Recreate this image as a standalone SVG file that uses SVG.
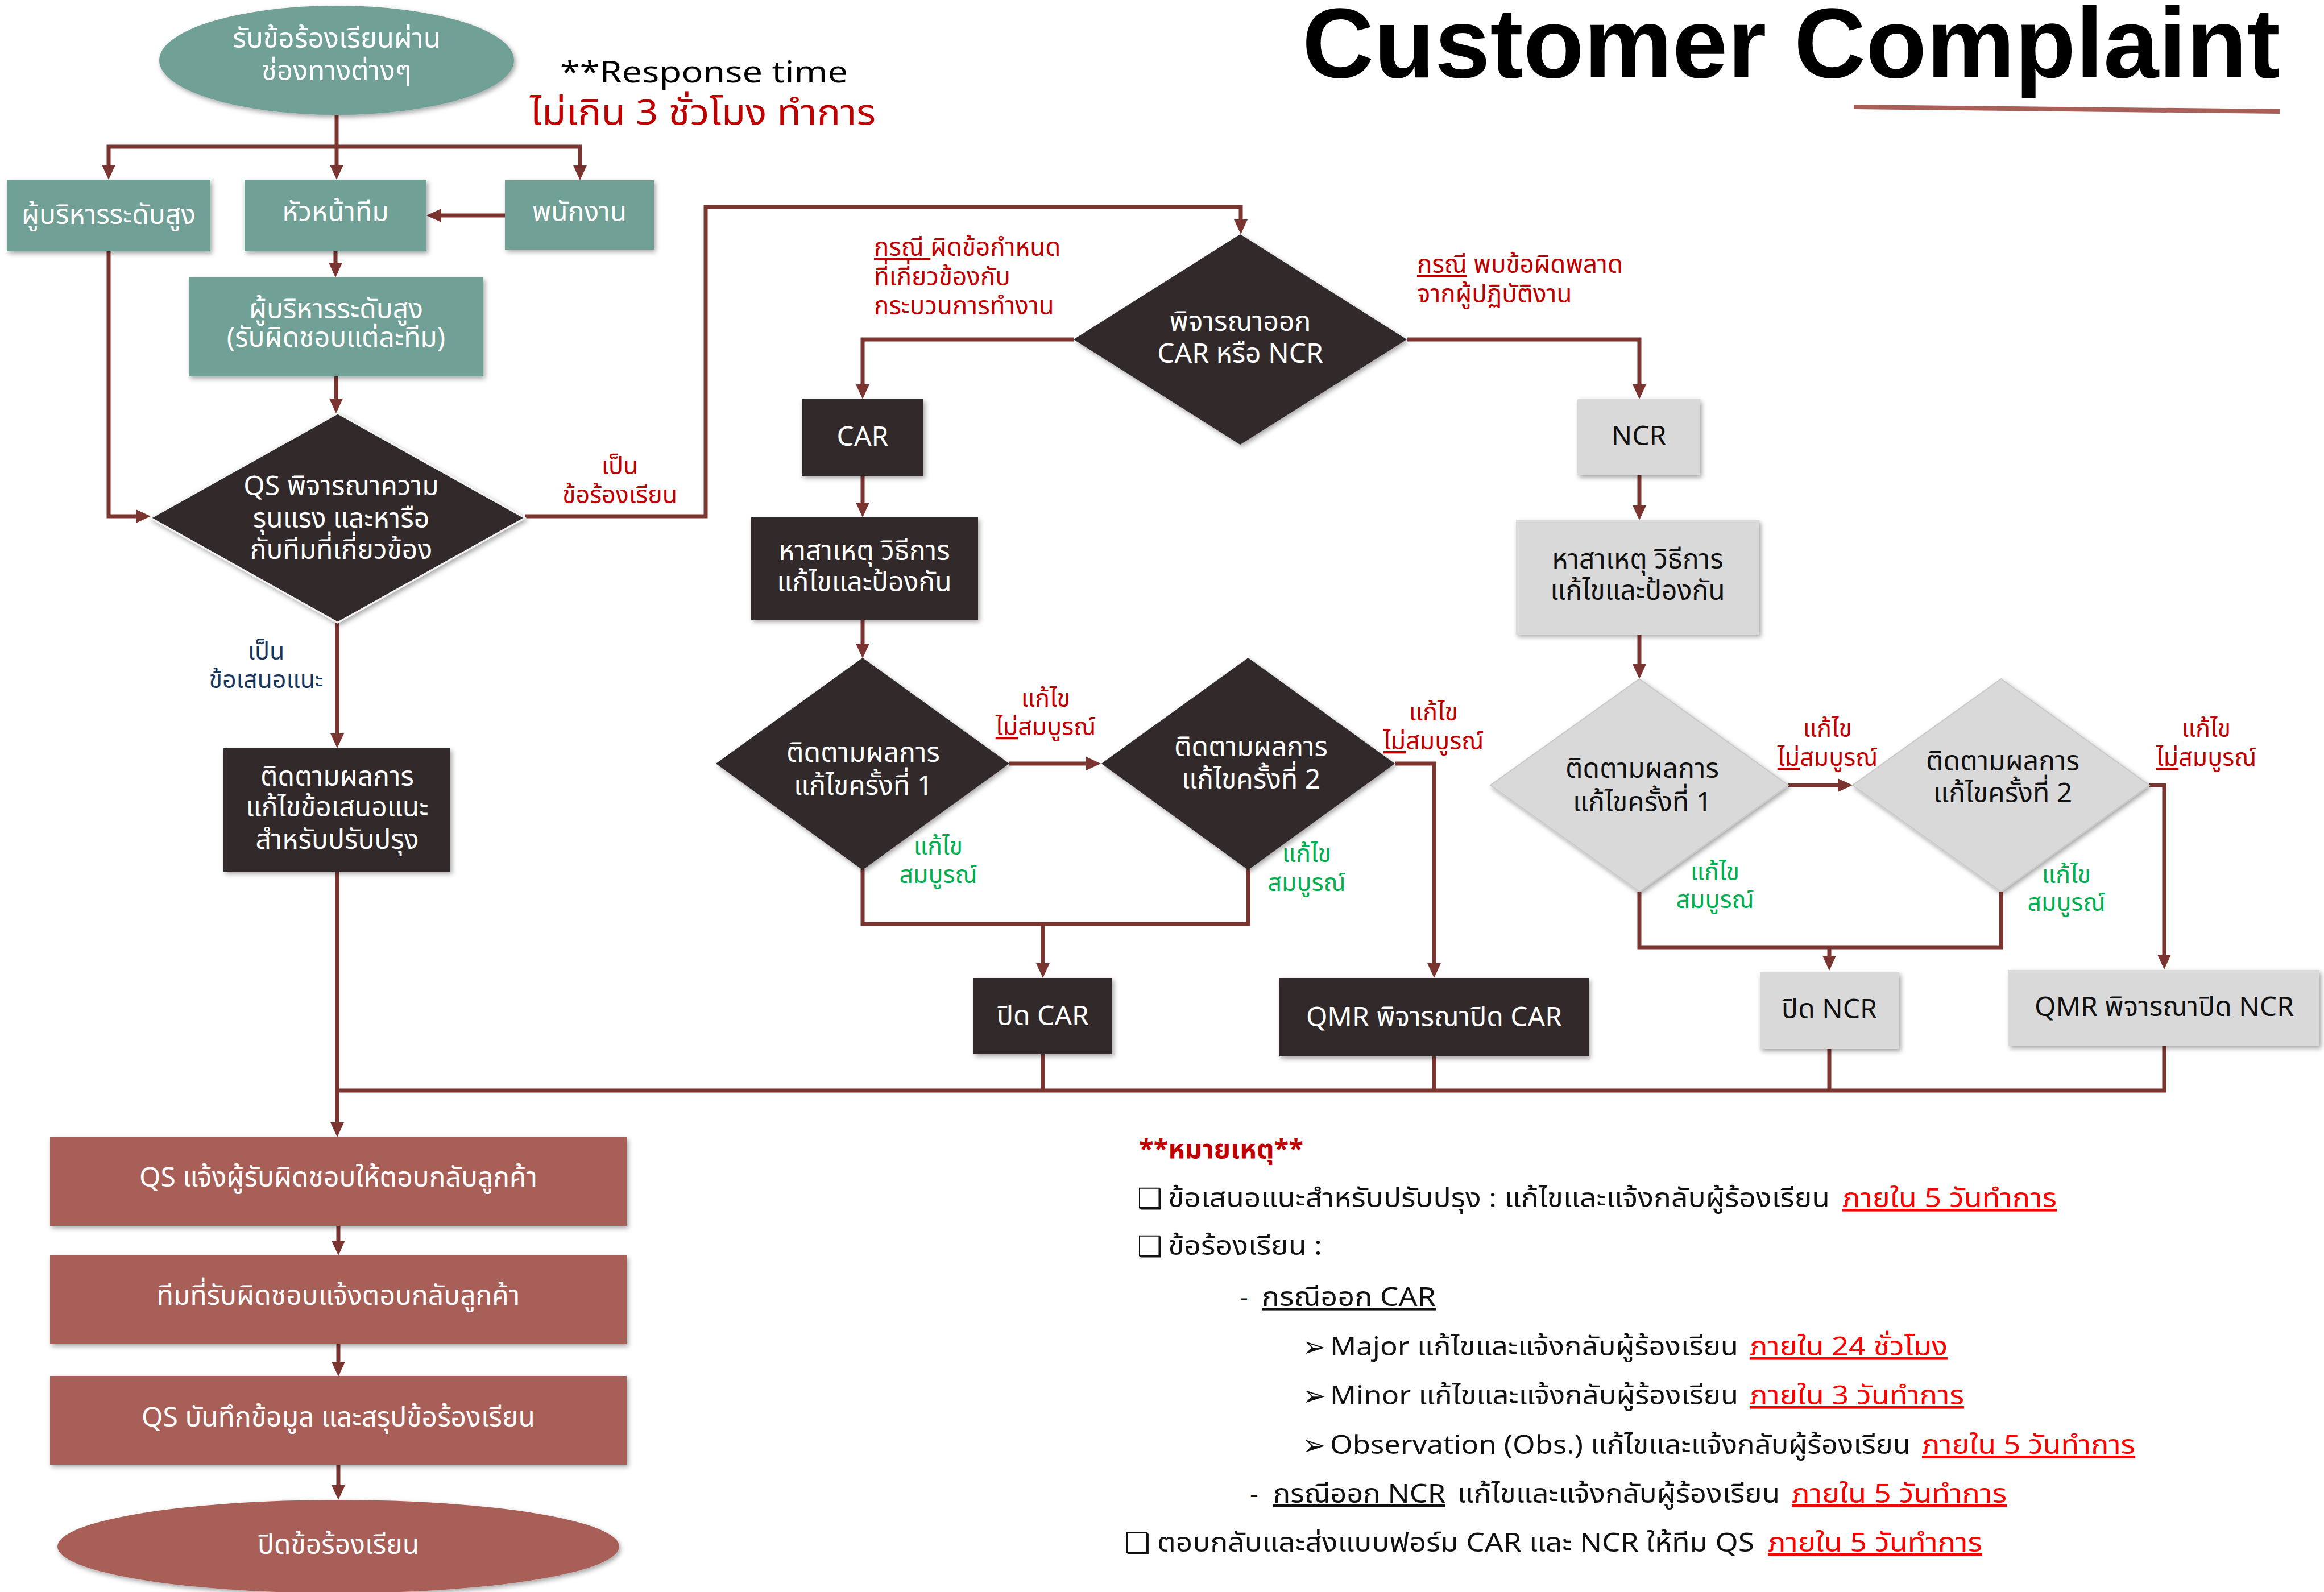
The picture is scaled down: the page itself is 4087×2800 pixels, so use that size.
<svg xmlns="http://www.w3.org/2000/svg" width="4087" height="2800" viewBox="0 0 4087 2800">
<defs>
<style>
.t{font-family:"Noto Sans Thai","Noto Sans","DejaVu Sans",sans-serif;}
.m{text-anchor:middle;}
.w{fill:#ffffff;}
.k{fill:#111111;}
.r{fill:#c00000;}
.rr{fill:#ff0000;}
.g{fill:#00b050;}
.n{fill:#17375e;}
.f48{font-size:48px;}
.f43{font-size:43px;}
.f46{font-size:46px;}
.u{text-decoration:underline;}
.teal{fill:#6fa096;}
.dark{fill:#322a2a;}
.gray{fill:#d9d9d9;}
.brick{fill:#a85f58;}
.sym{font-family:"DejaVu Sans",sans-serif;font-size:50px;fill:#111;}
.c path{fill:none;stroke:#7b3530;stroke-width:7;stroke-linejoin:miter;}
</style>
<filter id="sh" x="-10%" y="-10%" width="125%" height="125%">
<feDropShadow dx="3" dy="4" stdDeviation="4" flood-color="#000" flood-opacity="0.35"/>
</filter>
<marker id="ar" markerUnits="userSpaceOnUse" markerWidth="26" markerHeight="24" refX="18" refY="12" orient="auto-start-reverse" viewBox="0 0 26 24">
<path d="M0,0 L26,12 L0,24 z" fill="#7b3530"/>
</marker>
</defs>
<rect width="4087" height="2800" fill="#ffffff"/>

<!-- title -->
<g id="title">
<text x="2290" y="136" font-family="Liberation Sans, Arial, sans-serif" font-weight="bold" font-size="175" textLength="1720" lengthAdjust="spacingAndGlyphs" fill="#000">Customer Complaint</text>
<line x1="3260" y1="188" x2="4009" y2="196" stroke="#a85f58" stroke-width="8"/>
</g>

<g id="response">
<text class="t" x="985" y="145" font-size="52" textLength="506" lengthAdjust="spacingAndGlyphs" fill="#000">**Response time</text>
<text class="t r" x="932" y="219" font-size="62" textLength="608" lengthAdjust="spacingAndGlyphs">ไม่เกิน 3 ชั่วโมง ทำการ</text>
</g>

<!-- connectors -->
<g id="connectors" class="c">
<path d="M592,202 V308" marker-end="url(#ar)"/>
<path d="M191,308 V258 H1020 V309" marker-start="url(#ar)" marker-end="url(#ar)"/>
<path d="M888,379 H758" marker-end="url(#ar)"/>
<path d="M590,442 V480" marker-end="url(#ar)"/>
<path d="M191,442 V908 H257" marker-end="url(#ar)"/>
<path d="M591,662 V719" marker-end="url(#ar)"/>
<path d="M923,908 H1241 V364 H2182 V404" marker-end="url(#ar)"/>
<path d="M593,1095 V1308" marker-end="url(#ar)"/>
<path d="M593,1533 V1992" marker-end="url(#ar)"/>
<path d="M1888,597 H1517 V694" marker-end="url(#ar)"/>
<path d="M2475,597 H2883 V694" marker-end="url(#ar)"/>
<path d="M1517,837 V902" marker-end="url(#ar)"/>
<path d="M1517,1090 V1150" marker-end="url(#ar)"/>
<path d="M1775,1343 H1928" marker-end="url(#ar)"/>
<path d="M1517,1529 V1625 H2195 V1529"/>
<path d="M1834,1625 V1712" marker-end="url(#ar)"/>
<path d="M2453,1343 H2522 V1712" marker-end="url(#ar)"/>
<path d="M2883,836 V907" marker-end="url(#ar)"/>
<path d="M2883,1116 V1186" marker-end="url(#ar)"/>
<path d="M3145,1381 H3250" marker-end="url(#ar)"/>
<path d="M2883,1568 V1666 H3519 V1568"/>
<path d="M3217,1666 V1699" marker-end="url(#ar)"/>
<path d="M3780,1381 H3806 V1697" marker-end="url(#ar)"/>
<path d="M1834,1854 V1918"/>
<path d="M2522,1858 V1918"/>
<path d="M3217,1845 V1918"/>
<path d="M3806,1840 V1918 H593"/>
<path d="M595,2156 V2200" marker-end="url(#ar)"/>
<path d="M595,2364 V2413" marker-end="url(#ar)"/>
<path d="M595,2576 V2630" marker-end="url(#ar)"/>
</g>

<!-- nodes -->
<g id="start">
<ellipse cx="592" cy="106" rx="312" ry="96" class="teal" filter="url(#sh)"/>
<text class="t m w" font-size="49" x="592" y="84">รับข้อร้องเรียนผ่าน</text>
<text class="t m w" font-size="49" x="592" y="141">ช่องทางต่างๆ</text>
</g>
<g id="exec">
<rect x="12" y="316" width="358" height="126" class="teal" filter="url(#sh)"/>
<text class="t m w f48" x="191" y="394">ผู้บริหารระดับสูง</text>
</g>
<g id="lead">
<rect x="430" y="316" width="320" height="126" class="teal" filter="url(#sh)"/>
<text class="t m w f48" x="590" y="389">หัวหน้าทีม</text>
</g>
<g id="staff">
<rect x="888" y="317" width="262" height="122" class="teal" filter="url(#sh)"/>
<text class="t m w f48" x="1019" y="389">พนักงาน</text>
</g>
<g id="exec2">
<rect x="332" y="488" width="518" height="174" class="teal" filter="url(#sh)"/>
<text class="t m w f48" x="591" y="560">ผู้บริหารระดับสูง</text>
<text class="t m w f48" x="591" y="610">(รับผิดชอบแต่ละทีม)</text>
</g>
<g id="qs">
<polygon points="594,727 923,911 594,1095 265,911" class="dark" stroke="#f2f2f2" stroke-width="3" filter="url(#sh)"/>
<text class="t m w f48" x="600" y="871">QS พิจารณาความ</text>
<text class="t m w f48" x="600" y="928">รุนแรง และหารือ</text>
<text class="t m w f48" x="600" y="983">กับทีมที่เกี่ยวข้อง</text>
</g>
<g id="lbl-complaint">
<text class="t m r f43" x="1090" y="834">เป็น</text>
<text class="t m r f43" x="1090" y="885">ข้อร้องเรียน</text>
</g>
<g id="lbl-suggest">
<text class="t m n f43" x="468" y="1160">เป็น</text>
<text class="t m n f43" x="468" y="1210">ข้อเสนอแนะ</text>
</g>
<g id="suggest">
<rect x="393" y="1316" width="399" height="217" class="dark" filter="url(#sh)"/>
<text class="t m w f48" x="593" y="1382">ติดตามผลการ</text>
<text class="t m w f48" x="593" y="1436">แก้ไขข้อเสนอแนะ</text>
<text class="t m w f48" x="593" y="1493">สำหรับปรับปรุง</text>
</g>

<g id="decide">
<polygon points="2181,412 2474,597 2181,782 1888,597" class="dark" filter="url(#sh)"/>
<text class="t m w f48" x="2181" y="582">พิจารณาออก</text>
<text class="t m w f48" x="2181" y="638">CAR หรือ NCR</text>
</g>
<g id="lbl-car">
<text class="t r" font-size="44" x="1537" y="450"><tspan class="u">กรณี </tspan>ผิดข้อกำหนด</text>
<text class="t r" font-size="44" x="1537" y="502">ที่เกี่ยวข้องกับ</text>
<text class="t r" font-size="44" x="1537" y="553">กระบวนการทำงาน</text>
</g>
<g id="lbl-ncr">
<text class="t r" font-size="44" x="2492" y="480"><tspan class="u">กรณี</tspan> พบข้อผิดพลาด</text>
<text class="t r" font-size="44" x="2492" y="532">จากผู้ปฏิบัติงาน</text>
</g>

<g id="car">
<rect x="1410" y="702" width="214" height="135" class="dark" filter="url(#sh)"/>
<text class="t m w f48" x="1517" y="784">CAR</text>
</g>
<g id="car-cause">
<rect x="1321" y="910" width="399" height="180" class="dark" filter="url(#sh)"/>
<text class="t m w f48" x="1520" y="985">หาสาเหตุ วิธีการ</text>
<text class="t m w f48" x="1520" y="1040">แก้ไขและป้องกัน</text>
</g>
<g id="car-f1">
<polygon points="1517,1157 1775,1343 1517,1530 1259,1343" class="dark" filter="url(#sh)"/>
<text class="t m w f48" x="1518" y="1340">ติดตามผลการ</text>
<text class="t m w f48" x="1518" y="1398">แก้ไขครั้งที่ 1</text>
</g>
<g id="car-f2">
<polygon points="2195,1157 2453,1343 2195,1530 1937,1343" class="dark" filter="url(#sh)"/>
<text class="t m w f48" x="2200" y="1330">ติดตามผลการ</text>
<text class="t m w f48" x="2200" y="1387">แก้ไขครั้งที่ 2</text>
</g>
<g id="car-labels">
<text class="t m r f43" x="1839" y="1243">แก้ไข</text>
<text class="t m r f43" x="1839" y="1293"><tspan class="u">ไม่</tspan>สมบูรณ์</text>
<text class="t m r f43" x="2521" y="1267">แก้ไข</text>
<text class="t m r f43" x="2521" y="1318"><tspan class="u">ไม่</tspan>สมบูรณ์</text>
<text class="t m g f43" x="1650" y="1503">แก้ไข</text>
<text class="t m g f43" x="1650" y="1553">สมบูรณ์</text>
<text class="t m g f43" x="2298" y="1516">แก้ไข</text>
<text class="t m g f43" x="2298" y="1567">สมบูรณ์</text>
</g>
<g id="car-close">
<rect x="1712" y="1720" width="244" height="134" class="dark" filter="url(#sh)"/>
<text class="t m w f48" x="1834" y="1803">ปิด CAR</text>
</g>
<g id="car-qmr">
<rect x="2250" y="1720" width="544" height="138" class="dark" filter="url(#sh)"/>
<text class="t m w f48" x="2522" y="1805">QMR พิจารณาปิด CAR</text>
</g>

<g id="ncr">
<rect x="2774" y="702" width="216" height="134" class="gray" filter="url(#sh)"/>
<text class="t m k f48" x="2882" y="783">NCR</text>
</g>
<g id="ncr-cause">
<rect x="2666" y="915" width="428" height="201" class="gray" filter="url(#sh)"/>
<text class="t m k f48" x="2880" y="1000">หาสาเหตุ วิธีการ</text>
<text class="t m k f48" x="2880" y="1055">แก้ไขและป้องกัน</text>
</g>
<g id="ncr-f1">
<polygon points="2883,1194 3145,1381 2883,1568 2621,1381" class="gray" stroke="#c9c9c9" stroke-width="2" filter="url(#sh)"/>
<text class="t m k f48" x="2888" y="1368">ติดตามผลการ</text>
<text class="t m k f48" x="2888" y="1427">แก้ไขครั้งที่ 1</text>
</g>
<g id="ncr-f2">
<polygon points="3519,1194 3780,1381 3519,1568 3258,1381" class="gray" stroke="#c9c9c9" stroke-width="2" filter="url(#sh)"/>
<text class="t m k f48" x="3522" y="1355">ติดตามผลการ</text>
<text class="t m k f48" x="3522" y="1411">แก้ไขครั้งที่ 2</text>
</g>
<g id="ncr-labels">
<text class="t m r f43" x="3214" y="1296">แก้ไข</text>
<text class="t m r f43" x="3214" y="1347"><tspan class="u">ไม่</tspan>สมบูรณ์</text>
<text class="t m r f43" x="3880" y="1296">แก้ไข</text>
<text class="t m r f43" x="3880" y="1347"><tspan class="u">ไม่</tspan>สมบูรณ์</text>
<text class="t m g f43" x="3016" y="1548">แก้ไข</text>
<text class="t m g f43" x="3016" y="1597">สมบูรณ์</text>
<text class="t m g f43" x="3634" y="1553">แก้ไข</text>
<text class="t m g f43" x="3634" y="1602">สมบูรณ์</text>
</g>
<g id="ncr-close">
<rect x="3095" y="1710" width="245" height="135" class="gray" filter="url(#sh)"/>
<text class="t m k f48" x="3217" y="1791">ปิด NCR</text>
</g>
<g id="ncr-qmr">
<rect x="3532" y="1706" width="547" height="134" class="gray" filter="url(#sh)"/>
<text class="t m k f48" x="3806" y="1787">QMR พิจารณาปิด NCR</text>
</g>

<g id="notify">
<rect x="88" y="2000" width="1014" height="156" class="brick" filter="url(#sh)"/>
<text class="t m w f48" x="595" y="2087">QS แจ้งผู้รับผิดชอบให้ตอบกลับลูกค้า</text>
</g>
<g id="team-reply">
<rect x="88" y="2208" width="1014" height="156" class="brick" filter="url(#sh)"/>
<text class="t m w f48" x="595" y="2295">ทีมที่รับผิดชอบแจ้งตอบกลับลูกค้า</text>
</g>
<g id="record">
<rect x="88" y="2420" width="1014" height="156" class="brick" filter="url(#sh)"/>
<text class="t m w f48" x="595" y="2509">QS บันทึกข้อมูล และสรุปข้อร้องเรียน</text>
</g>
<g id="end">
<ellipse cx="595" cy="2720" rx="494" ry="82" class="brick" filter="url(#sh)"/>
<text class="t m w f48" x="595" y="2733">ปิดข้อร้องเรียน</text>
</g>

<!-- notes -->
<g id="notes">
<text class="t r" font-size="46" font-weight="bold" x="2003" y="2037" textLength="289" lengthAdjust="spacingAndGlyphs">**หมายเหตุ**</text>
<text class="sym" x="2000" y="2125">❑</text>
<text class="t k f46" x="2054" y="2123" textLength="1164" lengthAdjust="spacingAndGlyphs">ข้อเสนอแนะสำหรับปรับปรุง : แก้ไขและแจ้งกลับผู้ร้องเรียน</text>
<text class="t rr f46 u" x="3240" y="2123" textLength="377" lengthAdjust="spacingAndGlyphs">ภายใน 5 วันทำการ</text>
<text class="sym" x="2000" y="2209">❑</text>
<text class="t k f46" x="2054" y="2207" textLength="271" lengthAdjust="spacingAndGlyphs">ข้อร้องเรียน :</text>
<text class="t k f46" x="2180" y="2297">-</text>
<text class="t k f46 u" x="2219" y="2297" textLength="306" lengthAdjust="spacingAndGlyphs">กรณีออก CAR</text>
<text class="sym" x="2290" y="2386" font-size="46">➢</text>
<text class="t k f46" x="2339" y="2384" textLength="718" lengthAdjust="spacingAndGlyphs">Major แก้ไขและแจ้งกลับผู้ร้องเรียน</text>
<text class="t rr f46 u" x="3077" y="2384" textLength="348" lengthAdjust="spacingAndGlyphs">ภายใน 24 ชั่วโมง</text>
<text class="sym" x="2290" y="2472" font-size="46">➢</text>
<text class="t k f46" x="2339" y="2470" textLength="718" lengthAdjust="spacingAndGlyphs">Minor แก้ไขและแจ้งกลับผู้ร้องเรียน</text>
<text class="t rr f46 u" x="3077" y="2470" textLength="377" lengthAdjust="spacingAndGlyphs">ภายใน 3 วันทำการ</text>
<text class="sym" x="2290" y="2559" font-size="46">➢</text>
<text class="t k f46" x="2339" y="2557" textLength="1021" lengthAdjust="spacingAndGlyphs">Observation (Obs.) แก้ไขและแจ้งกลับผู้ร้องเรียน</text>
<text class="t rr f46 u" x="3380" y="2557" textLength="375" lengthAdjust="spacingAndGlyphs">ภายใน 5 วันทำการ</text>
<text class="t k f46" x="2198" y="2643">-</text>
<text class="t k f46 u" x="2239" y="2643" textLength="303" lengthAdjust="spacingAndGlyphs">กรณีออก NCR</text>
<text class="t k f46" x="2563" y="2643" textLength="567" lengthAdjust="spacingAndGlyphs">แก้ไขและแจ้งกลับผู้ร้องเรียน</text>
<text class="t rr f46 u" x="3151" y="2643" textLength="378" lengthAdjust="spacingAndGlyphs">ภายใน 5 วันทำการ</text>
<text class="sym" x="1978" y="2731">❑</text>
<text class="t k f46" x="2035" y="2729" textLength="1050" lengthAdjust="spacingAndGlyphs">ตอบกลับและส่งแบบฟอร์ม CAR และ NCR ให้ทีม QS</text>
<text class="t rr f46 u" x="3109" y="2729" textLength="377" lengthAdjust="spacingAndGlyphs">ภายใน 5 วันทำการ</text>
</g>
</svg>
